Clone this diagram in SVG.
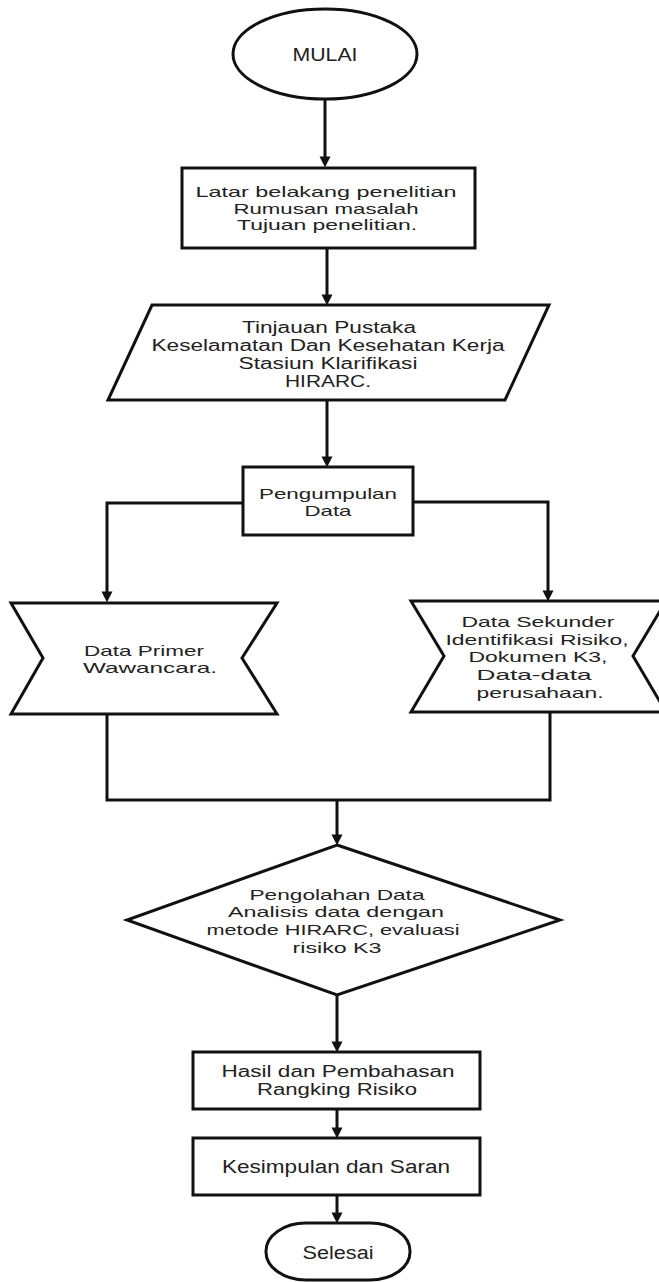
<svg xmlns="http://www.w3.org/2000/svg" width="659" height="1282" viewBox="0 0 659 1282">
<defs>
<style>
.shape{fill:#fff;stroke:#111;stroke-width:3;stroke-linejoin:miter}
.conn{fill:none;stroke:#111;stroke-width:3}
.t{font-family:"Liberation Sans",Arial,sans-serif;font-size:16px;fill:#222;text-anchor:middle}
.s{font-size:14.5px}
.l{font-size:18px}
.m{font-family:"Liberation Sans",Arial,sans-serif;font-size:15px;fill:#222;text-anchor:middle}
</style>
<marker id="arr" viewBox="0 0 10 10" refX="6" refY="5" markerWidth="11" markerHeight="12" markerUnits="userSpaceOnUse" orient="auto">
<path d="M0,0 L10,5 L0,10 z" fill="#111"/>
</marker>
</defs>
<rect width="659" height="1282" fill="#fff"/>
<g id="connectors">
<path class="conn" d="M325 99 L325 163" marker-end="url(#arr)"/>
<path class="conn" d="M327 248 L327 301" marker-end="url(#arr)"/>
<path class="conn" d="M327 400 L327 463" marker-end="url(#arr)"/>
<path class="conn" d="M243 503 L107 503 L107 598" marker-end="url(#arr)"/>
<path class="conn" d="M413 502 L548 502 L548 597" marker-end="url(#arr)"/>
<path class="conn" d="M107 714 L107 800 L550 800 L550 712"/>
<path class="conn" d="M337 800 L337 841" marker-end="url(#arr)"/>
<path class="conn" d="M337 995 L337 1048" marker-end="url(#arr)"/>
<path class="conn" d="M337 1109 L337 1134" marker-end="url(#arr)"/>
<path class="conn" d="M337 1195 L337 1219" marker-end="url(#arr)"/>
</g>
<g id="mulai">
<ellipse class="shape" cx="325" cy="54" rx="92" ry="45"/>
<text class="t l" x="325" y="61" textLength="65" lengthAdjust="spacingAndGlyphs">MULAI</text>
</g>
<g id="pendahuluan">
<rect class="shape" x="182" y="168" width="293" height="80"/>
<text class="t s" x="326" y="197" textLength="261" lengthAdjust="spacingAndGlyphs">Latar belakang penelitian</text>
<text class="t s" x="326" y="213.5" textLength="185" lengthAdjust="spacingAndGlyphs">Rumusan masalah</text>
<text class="t s" x="327" y="230" textLength="180" lengthAdjust="spacingAndGlyphs">Tujuan penelitian.</text>
</g>
<g id="tinjauan">
<polygon class="shape" points="152,305 549,305 505,400 108,400"/>
<text class="t" x="329" y="333" textLength="174" lengthAdjust="spacingAndGlyphs">Tinjauan Pustaka</text>
<text class="t" x="328" y="351" textLength="353" lengthAdjust="spacingAndGlyphs">Keselamatan Dan Kesehatan Kerja</text>
<text class="t" x="328" y="369" textLength="179" lengthAdjust="spacingAndGlyphs">Stasiun Klarifikasi</text>
<text class="t" x="328" y="387" textLength="86" lengthAdjust="spacingAndGlyphs">HIRARC.</text>
</g>
<g id="pengumpulan">
<rect class="shape" x="243" y="467" width="170" height="68"/>
<text class="m" x="328" y="499" textLength="138" lengthAdjust="spacingAndGlyphs">Pengumpulan</text>
<text class="m" x="328" y="516" textLength="47" lengthAdjust="spacingAndGlyphs">Data</text>
</g>
<g id="primer">
<polygon class="shape" points="11,603 277,603 242,658 277,714 11,714 43,658"/>
<text class="m" x="144" y="656" textLength="120" lengthAdjust="spacingAndGlyphs">Data Primer</text>
<text class="m" x="150" y="673" textLength="134" lengthAdjust="spacingAndGlyphs">Wawancara.</text>
</g>
<g id="sekunder">
<polygon class="shape" points="411,601 666,601 633,656 666,712 411,712 444,656"/>
<text class="m" x="538" y="627" textLength="153" lengthAdjust="spacingAndGlyphs">Data Sekunder</text>
<text class="m" x="537" y="645" textLength="183" lengthAdjust="spacingAndGlyphs">Identifikasi Risiko,</text>
<text class="m" x="538" y="662" textLength="139" lengthAdjust="spacingAndGlyphs">Dokumen K3,</text>
<text class="m" x="534" y="680" textLength="115" lengthAdjust="spacingAndGlyphs">Data-data</text>
<text class="m" x="540" y="698" textLength="127" lengthAdjust="spacingAndGlyphs">perusahaan.</text>
</g>
<g id="pengolahan">
<polygon class="shape" points="337,845 560,920 337,995 127,920"/>
<text class="m" x="337" y="900" textLength="175" lengthAdjust="spacingAndGlyphs">Pengolahan Data</text>
<text class="m" x="336" y="917" textLength="216" lengthAdjust="spacingAndGlyphs">Analisis data dengan</text>
<text class="m" x="333" y="935" textLength="253" lengthAdjust="spacingAndGlyphs">metode HIRARC, evaluasi</text>
<text class="m" x="337" y="953" textLength="89" lengthAdjust="spacingAndGlyphs">risiko K3</text>
</g>
<g id="hasil">
<rect class="shape" x="193" y="1052" width="287" height="57"/>
<text class="t" x="338" y="1077" textLength="233" lengthAdjust="spacingAndGlyphs">Hasil dan Pembahasan</text>
<text class="t" x="337" y="1095" textLength="160" lengthAdjust="spacingAndGlyphs">Rangking Risiko</text>
</g>
<g id="kesimpulan">
<rect class="shape" x="193" y="1138" width="287" height="57"/>
<text class="t l" x="336" y="1173" textLength="228" lengthAdjust="spacingAndGlyphs">Kesimpulan dan Saran</text>
</g>
<g id="selesai">
<rect class="shape" x="266" y="1223" width="144" height="57" rx="40" ry="28"/>
<text class="t l" x="338" y="1259" textLength="71" lengthAdjust="spacingAndGlyphs">Selesai</text>
</g>
</svg>
